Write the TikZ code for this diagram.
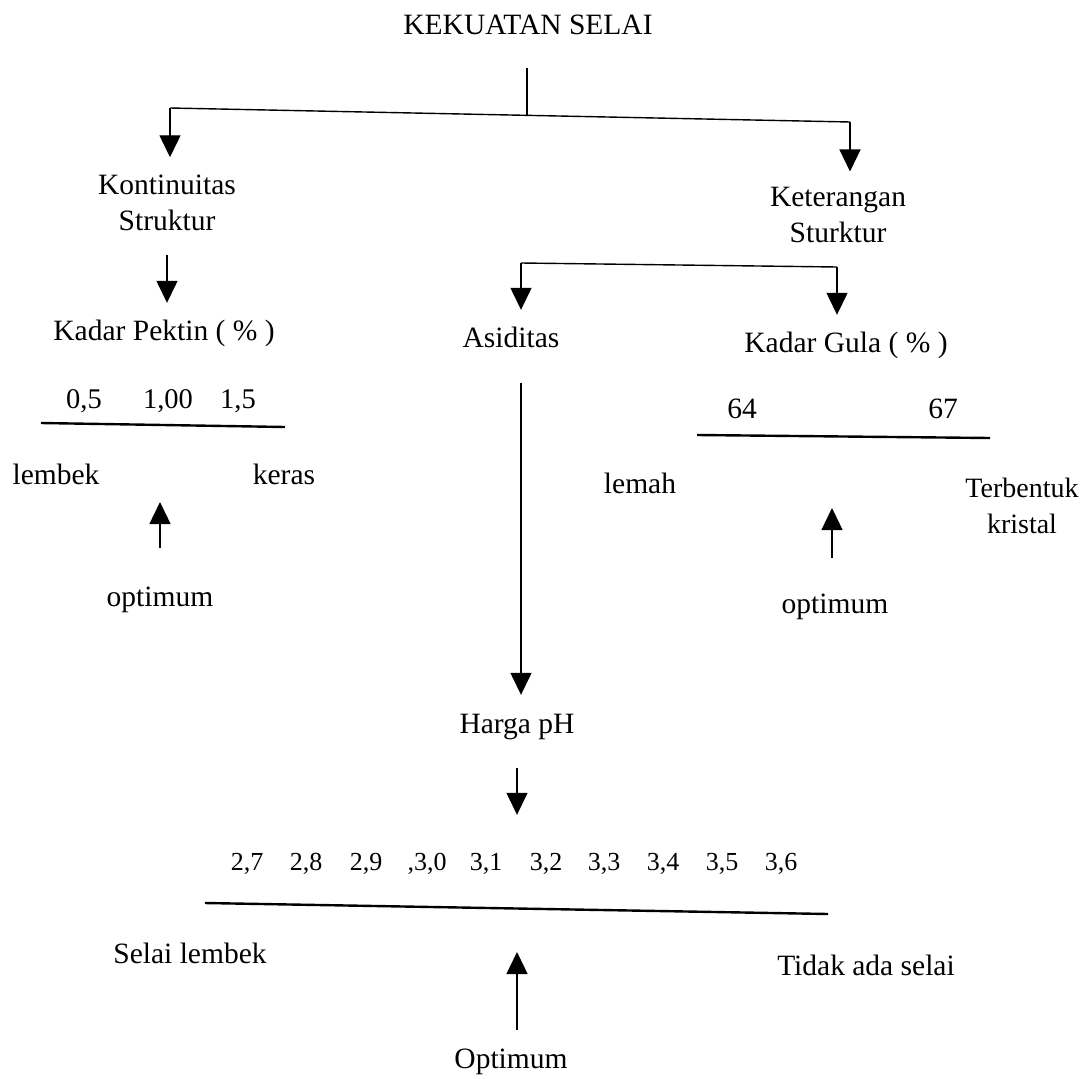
\documentclass[tikz,border=0pt]{standalone}
\usepackage{fontspec}
\setmainfont{Liberation Serif}
\usetikzlibrary{arrows.meta}
\begin{document}
\begin{tikzpicture}[x=1pt,y=-1pt,
  txt/.style={inner sep=0pt, anchor=base, font=\fontsize{29.5}{36}\selectfont},
  lab/.style={txt, text height=20pt, text depth=6pt},
  num/.style={lab, font=\fontsize{26}{30}\selectfont},
  two/.style={txt, align=center},
  conn/.style={line width=1.4pt},
  arr/.style={conn, -{Triangle[width=21pt,length=22pt]}},
  rule/.style={line width=2.4pt}]
\useasboundingbox (0,0) rectangle (1083,1078);
\fill[white] (0,0) rectangle (1083,1078);

% nodes (x = centre, y = baseline; two-line nodes: baseline of last line)
\node[lab] (title) at (528,35) {KEKUATAN SELAI};
\node[two] (kont) at (167,230) {Kontinuitas\\Struktur};
\node[two] (kete) at (838,242) {Keterangan\\Sturktur};
\node[lab] (pektin) at (164,340) {Kadar Pektin ( \% )};
\node[lab, font=\fontsize{28.5}{32}\selectfont] (p05) at (84,408) {0,5};
\node[lab, font=\fontsize{28.5}{32}\selectfont] (p100) at (168,408) {1,00};
\node[lab, font=\fontsize{28.5}{32}\selectfont] (p15) at (238,408) {1,5};
\node[lab] (lembek) at (56,484) {lembek};
\node[lab] (keras) at (284,484) {keras};
\node[lab] (optL) at (160,606) {optimum};
\node[lab] (asid) at (511,347) {Asiditas};
\node[lab] (gula) at (846,352) {Kadar Gula ( \% )};
\node[lab] (g64) at (742,418) {64};
\node[lab] (g67) at (943,418) {67};
\node[lab] (lemah) at (640,493) {lemah};
\node[two, font=\fontsize{28}{36}\selectfont] (terb) at (1022,533) {Terbentuk\\kristal};
\node[lab] (optR) at (835,613) {optimum};
\node[lab] (harga) at (517,733) {Harga pH};
\node[num] (h27) at (247,870) {2,7};
\node[num] (h28) at (306,870) {2,8};
\node[num] (h29) at (366,870) {2,9};
\node[num] (h30) at (427,870) {,3,0};
\node[num] (h31) at (486,870) {3,1};
\node[num] (h32) at (546,870) {3,2};
\node[num] (h33) at (604,870) {3,3};
\node[num] (h34) at (663,870) {3,4};
\node[num] (h35) at (722,870) {3,5};
\node[num] (h36) at (781,870) {3,6};
\node[lab] (sl) at (190,963) {Selai lembek};
\node[lab] (tas) at (866,975) {Tidak ada selai};
\node[lab] (optB) at (511,1068) {Optimum};

% coordinates
\coordinate (j) at (527,116.5);
\coordinate (jL) at (170,108);
\coordinate (jR) at (850,122);
\coordinate (brL) at (521,263);
\coordinate (brR) at (837,267);
\coordinate (tipL) at (160,502);
\coordinate (tipR) at (832,508);
\coordinate (tipB) at (517,952);

% top tree
\draw[conn, shorten <=27pt] (title.south -| j) -- (j);
\draw[conn] (jL) -- (jR);
\draw[arr, shorten >=17pt] (jL) -- (jL |- kont.north);
\draw[arr, shorten >=15pt] (jR) -- (jR |- kete.north);
\draw[arr, shorten <=25pt, shorten >=17pt] (kont.south) -- (kont.south |- pektin.north);

% bracket under Keterangan Sturktur
\draw[conn] (brL) -- (brR);
\draw[arr, shorten >=17pt] (brL) -- (brL |- asid.north);
\draw[arr, shorten >=17pt] (brR) -- (brR |- gula.north);

% Asiditas -> Harga pH -> values
\draw[arr, shorten <=30pt, shorten >=18pt] (asid.south -| brL) -- (harga.north -| brL);
\draw[arr, shorten <=29pt, shorten >=35pt] (harga.south) -- (harga.south |- h31.north);

% scale rules
\draw[rule] (41,423) -- (285,427);
\draw[rule] (697,435) -- (990,438);
\draw[rule] (205,903) -- (828,914);

% optimum arrows
\draw[arr, shorten <=38pt] (optL.north -| tipL) -- (tipL);
\draw[arr, shorten <=35pt] (optR.north -| tipR) -- (tipR);
\draw[arr, shorten <=18pt] (optB.north -| tipB) -- (tipB);
\end{tikzpicture}
\end{document}
